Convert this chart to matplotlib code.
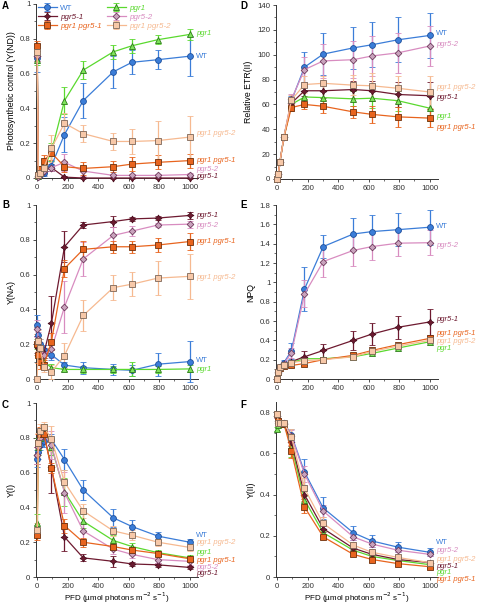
import matplotlib
matplotlib.use("Agg")
import matplotlib.pyplot as plt
from matplotlib.ticker import MultipleLocator, FuncFormatter

plt.rcParams['font.family'] = ['Liberation Sans', 'DejaVu Sans']

# light intensities (PFD)
pfd = [0, 7, 18, 44, 93, 179, 302, 499, 622, 792, 1000]

names = ["WT", "pgr1", "pgr5-1", "pgr5-2", "pgr1 pgr5-1", "pgr1 pgr5-2"]

# A: Y(ND)
ynd_wt = [0.69, 0.01, 0.02, 0.03, 0.07, 0.25, 0.445, 0.61, 0.665, 0.68, 0.70]
ynd_wt_sd = [0.08, 0.005, 0.01, 0.02, 0.03, 0.10, 0.10, 0.09, 0.07, 0.055, 0.115]
ynd_pgr1 = [0.68, 0.01, 0.03, 0.06, 0.15, 0.445, 0.62, 0.725, 0.76, 0.795, 0.825]
ynd_pgr1_sd = [0.03, 0.01, 0.01, 0.02, 0.05, 0.08, 0.05, 0.04, 0.04, 0.025, 0.03]
ynd_pgr51 = [0.70, 0.01, 0.02, 0.04, 0.06, 0.005, 0.0, 0.0, 0.0, 0.0, 0.0]
ynd_pgr51_sd = [0.03, 0.005, 0.01, 0.01, 0.02, 0.005, 0.002, 0.002, 0.002, 0.002, 0.002]
ynd_pgr52 = [0.70, 0.005, 0.02, 0.04, 0.06, 0.09, 0.04, 0.015, 0.015, 0.015, 0.02]
ynd_pgr52_sd = [0.03, 0.005, 0.01, 0.02, 0.02, 0.05, 0.03, 0.01, 0.01, 0.01, 0.01]
ynd_dm1 = [0.76, 0.02, 0.05, 0.10, 0.145, 0.065, 0.055, 0.065, 0.08, 0.09, 0.10]
ynd_dm1_sd = [0.03, 0.01, 0.02, 0.03, 0.04, 0.03, 0.035, 0.03, 0.04, 0.04, 0.04]
ynd_dm2 = [0.725, 0.02, 0.03, 0.06, 0.17, 0.315, 0.255, 0.21, 0.21, 0.215, 0.235]
ynd_dm2_sd = [0.04, 0.01, 0.02, 0.03, 0.08, 0.06, 0.05, 0.05, 0.07, 0.11, 0.12]

# B: Y(NA)
yna_wt = [0.31, 0.255, 0.20, 0.165, 0.14, 0.08, 0.065, 0.055, 0.05, 0.085, 0.10]
yna_wt_sd = [0.06, 0.03, 0.03, 0.03, 0.03, 0.02, 0.035, 0.03, 0.03, 0.065, 0.12]
yna_pgr1 = [0.20, 0.15, 0.12, 0.10, 0.065, 0.055, 0.055, 0.055, 0.055, 0.055, 0.058]
yna_pgr1_sd = [0.03, 0.03, 0.02, 0.02, 0.02, 0.01, 0.02, 0.02, 0.04, 0.02, 0.02]
yna_pgr51 = [0.20, 0.18, 0.16, 0.15, 0.32, 0.76, 0.885, 0.905, 0.92, 0.925, 0.94]
yna_pgr51_sd = [0.05, 0.04, 0.03, 0.03, 0.155, 0.09, 0.02, 0.03, 0.01, 0.01, 0.02]
yna_pgr52 = [0.29, 0.23, 0.18, 0.14, 0.17, 0.415, 0.69, 0.825, 0.85, 0.885, 0.89]
yna_pgr52_sd = [0.05, 0.04, 0.03, 0.03, 0.05, 0.15, 0.10, 0.05, 0.03, 0.01, 0.02]
yna_dm1 = [0.20, 0.14, 0.10, 0.08, 0.215, 0.635, 0.745, 0.76, 0.76, 0.77, 0.79]
yna_dm1_sd = [0.06, 0.05, 0.04, 0.03, 0.05, 0.05, 0.05, 0.035, 0.035, 0.04, 0.05]
yna_dm2 = [0.0, 0.22, 0.18, 0.07, 0.04, 0.135, 0.365, 0.525, 0.545, 0.58, 0.59]
yna_dm2_sd = [0.0, 0.06, 0.05, 0.03, 0.04, 0.07, 0.09, 0.07, 0.07, 0.10, 0.13]

# C: Y(I)
yi_wt = [0.68, 0.72, 0.76, 0.78, 0.79, 0.675, 0.50, 0.34, 0.29, 0.235, 0.20]
yi_wt_sd = [0.05, 0.04, 0.03, 0.03, 0.03, 0.06, 0.06, 0.05, 0.035, 0.025, 0.02]
yi_pgr1 = [0.31, 0.75, 0.80, 0.84, 0.75, 0.49, 0.32, 0.21, 0.175, 0.14, 0.11]
yi_pgr1_sd = [0.05, 0.05, 0.04, 0.04, 0.05, 0.08, 0.04, 0.03, 0.02, 0.015, 0.015]
yi_pgr51 = [0.70, 0.75, 0.80, 0.82, 0.63, 0.23, 0.11, 0.09, 0.075, 0.07, 0.055]
yi_pgr51_sd = [0.05, 0.04, 0.03, 0.03, 0.15, 0.08, 0.02, 0.03, 0.01, 0.01, 0.01]
yi_pgr52 = [0.70, 0.75, 0.80, 0.82, 0.76, 0.485, 0.265, 0.16, 0.13, 0.10, 0.09]
yi_pgr52_sd = [0.05, 0.04, 0.03, 0.03, 0.08, 0.12, 0.05, 0.03, 0.02, 0.02, 0.02]
yi_dm1 = [0.24, 0.77, 0.82, 0.82, 0.625, 0.295, 0.20, 0.175, 0.155, 0.135, 0.105]
yi_dm1_sd = [0.03, 0.05, 0.04, 0.03, 0.03, 0.04, 0.025, 0.02, 0.02, 0.015, 0.015]
yi_dm2 = [0.27, 0.77, 0.84, 0.86, 0.795, 0.545, 0.38, 0.265, 0.24, 0.20, 0.17]
yi_dm2_sd = [0.04, 0.06, 0.04, 0.03, 0.07, 0.07, 0.04, 0.03, 0.03, 0.02, 0.02]

# D: relative ETR(II)
etr_wt = [0, 4, 14, 34, 63, 90, 100.5, 105.5, 108, 112, 115.5]
etr_wt_sd = [0, 1, 1, 2, 4, 12, 17, 17, 18, 18, 18]
etr_pgr1 = [0, 4, 14, 33.5, 60, 66, 65.5, 64.5, 65, 63, 57]
etr_pgr1_sd = [0, 1, 1, 2, 4, 5, 5, 6, 8, 8, 10]
etr_pgr51 = [0, 4, 14, 34, 61, 71, 71, 72, 71, 68, 67]
etr_pgr51_sd = [0, 1, 1, 2, 4, 4, 6, 7, 8, 10, 11]
etr_pgr52 = [0, 4, 14, 34, 64, 88, 95, 96, 99, 101.5, 107]
etr_pgr52_sd = [0, 1, 1, 2, 4, 10, 14, 15, 16, 16, 16]
etr_dm1 = [0, 4, 14, 33.5, 57.5, 60, 58.5, 54, 52, 50, 49]
etr_dm1_sd = [0, 1, 1, 2, 3, 4, 5, 5, 7, 8, 7]
etr_dm2 = [0, 4, 14, 34, 63.5, 76, 77, 75.5, 75, 73, 70]
etr_dm2_sd = [0, 1, 1, 2, 4, 7, 6, 8, 10, 10, 13]

# E: NPQ
npq_wt = [0, 0.06, 0.12, 0.17, 0.29, 0.93, 1.37, 1.50, 1.525, 1.545, 1.57]
npq_wt_sd = [0, 0.01, 0.02, 0.03, 0.08, 0.23, 0.12, 0.17, 0.17, 0.17, 0.18]
npq_pgr1 = [0, 0.07, 0.12, 0.14, 0.17, 0.21, 0.21, 0.23, 0.265, 0.32, 0.385]
npq_pgr1_sd = [0, 0.01, 0.01, 0.01, 0.01, 0.01, 0.01, 0.01, 0.01, 0.01, 0.01]
npq_pgr51 = [0, 0.07, 0.12, 0.14, 0.18, 0.23, 0.295, 0.40, 0.465, 0.535, 0.59]
npq_pgr51_sd = [0, 0.01, 0.01, 0.02, 0.02, 0.06, 0.07, 0.10, 0.11, 0.12, 0.13]
npq_pgr52 = [0, 0.06, 0.12, 0.16, 0.27, 0.88, 1.215, 1.33, 1.37, 1.405, 1.41]
npq_pgr52_sd = [0, 0.01, 0.02, 0.03, 0.05, 0.14, 0.16, 0.16, 0.14, 0.13, 0.13]
npq_dm1 = [0, 0.07, 0.11, 0.13, 0.14, 0.16, 0.20, 0.245, 0.295, 0.355, 0.42]
npq_dm1_sd = [0, 0.01, 0.01, 0.01, 0.01, 0.01, 0.01, 0.015, 0.015, 0.02, 0.02]
npq_dm2 = [0, 0.07, 0.12, 0.14, 0.17, 0.19, 0.20, 0.23, 0.285, 0.34, 0.40]
npq_dm2_sd = [0, 0.01, 0.01, 0.01, 0.01, 0.01, 0.01, 0.015, 0.015, 0.02, 0.02]

# F: Y(II)
yii_wt = [0.79, 0.76, 0.75, 0.75, 0.69, 0.51, 0.335, 0.215, 0.175, 0.145, 0.12]
yii_wt_sd = [0.01, 0.01, 0.01, 0.01, 0.03, 0.065, 0.055, 0.035, 0.03, 0.025, 0.02]
yii_pgr1 = [0.72, 0.74, 0.75, 0.745, 0.635, 0.375, 0.215, 0.13, 0.10, 0.08, 0.06]
yii_pgr1_sd = [0.01, 0.01, 0.01, 0.01, 0.05, 0.02, 0.01, 0.01, 0.01, 0.01, 0.01]
yii_pgr51 = [0.78, 0.76, 0.75, 0.745, 0.655, 0.40, 0.235, 0.14, 0.11, 0.085, 0.07]
yii_pgr51_sd = [0.01, 0.01, 0.01, 0.01, 0.02, 0.02, 0.015, 0.01, 0.01, 0.01, 0.01]
yii_pgr52 = [0.78, 0.75, 0.75, 0.75, 0.685, 0.50, 0.32, 0.195, 0.16, 0.13, 0.11]
yii_pgr52_sd = [0.01, 0.01, 0.01, 0.01, 0.03, 0.04, 0.03, 0.015, 0.015, 0.01, 0.01]
yii_dm1 = [0.79, 0.76, 0.75, 0.745, 0.61, 0.34, 0.195, 0.11, 0.085, 0.065, 0.05]
yii_dm1_sd = [0.01, 0.01, 0.01, 0.01, 0.03, 0.03, 0.01, 0.01, 0.01, 0.01, 0.01]
yii_dm2 = [0.79, 0.75, 0.75, 0.75, 0.68, 0.43, 0.26, 0.155, 0.12, 0.095, 0.07]
yii_dm2_sd = [0.01, 0.01, 0.01, 0.01, 0.04, 0.05, 0.03, 0.015, 0.015, 0.01, 0.01]

# line colour, marker face, marker edge, marker, marker size
styles = {
    "WT": ("#3b7dd8", "#3b7dd8", "#1d4f9c", "o", 4.2),
    "pgr1": ("#5ad92e", "#7fe35c", "#2c7a18", "^", 4.4),
    "pgr5-1": ("#6e1a30", "#6e1a30", "#4a0f1f", (4, 1, 0), 5.0),
    "pgr5-2": ("#d88cc0", "#c9a3bd", "#6f3a5c", "D", 3.4),
    "pgr1 pgr5-1": ("#e8641e", "#e8641e", "#6e300c", "s", 4.2),
    "pgr1 pgr5-2": ("#f6b990", "#f7c8a8", "#7d6657", "s", 4.2),
}

fig = plt.figure(figsize=(4.8, 6.05), dpi=100)

w = 0.3375
h = 174 / 605
ax_a = fig.add_axes([0.075, 1 - 178 / 605, w, h])
ax_b = fig.add_axes([0.075, 1 - 379 / 605, w, h])
ax_c = fig.add_axes([0.075, 1 - 577 / 605, w, h])
ax_d = fig.add_axes([0.575, 1 - 179 / 605, w, h])
ax_e = fig.add_axes([0.575, 1 - 379 / 605, w, h])
ax_f = fig.add_axes([0.575, 1 - 577 / 605, w, 175 / 605])


def draw(ax, values, errors, label_y, ylim, major, ylabel):
    for name, y, e in zip(names, values, errors):
        col, face, edge, mk, ms = styles[name]
        ax.errorbar(pfd, y, yerr=e, color=col, lw=0.9, ecolor=col, elinewidth=0.9,
                    capsize=2.2, capthick=0.9, marker=mk, ms=ms, mfc=face, mec=edge,
                    mew=0.6, label=name, clip_on=False, zorder=3)
    for name, ly in zip(names, label_y):
        ax.text(1040, ly, name, color=styles[name][0], fontsize=5.5,
                style="normal" if name == "WT" else "italic",
                va="center", ha="left", clip_on=False)
    ax.set_xlim(-8, 1055)
    ax.set_ylim(*ylim)
    ax.xaxis.set_major_locator(MultipleLocator(200))
    ax.xaxis.set_minor_locator(MultipleLocator(100))
    ax.yaxis.set_major_locator(MultipleLocator(major))
    ax.yaxis.set_minor_locator(MultipleLocator(major / 2))
    ax.xaxis.set_major_formatter(FuncFormatter(lambda v, p: "%g" % v))
    ax.yaxis.set_major_formatter(FuncFormatter(lambda v, p: "%g" % round(v, 3)))
    ax.spines["top"].set_visible(False)
    ax.spines["right"].set_visible(False)
    for s in ("left", "bottom"):
        ax.spines[s].set_linewidth(0.7)
        ax.spines[s].set_color("#333333")
    ax.tick_params(which="major", direction="out", length=2.5, width=0.6,
                   labelsize=5.6, pad=1.5, colors="#333333")
    ax.tick_params(which="minor", direction="out", length=1.5, width=0.5, colors="#333333")
    ax.set_ylabel(ylabel, fontsize=6.3, labelpad=3)


draw(ax_a,
     [ynd_wt, ynd_pgr1, ynd_pgr51, ynd_pgr52, ynd_dm1, ynd_dm2],
     [ynd_wt_sd, ynd_pgr1_sd, ynd_pgr51_sd, ynd_pgr52_sd, ynd_dm1_sd, ynd_dm2_sd],
     [0.70, 0.83, 0.006, 0.046, 0.10, 0.253], (0, 1), 0.2,
     "Photosynthetic control (Y(ND))")
draw(ax_b,
     [yna_wt, yna_pgr1, yna_pgr51, yna_pgr52, yna_dm1, yna_dm2],
     [yna_wt_sd, yna_pgr1_sd, yna_pgr51_sd, yna_pgr52_sd, yna_dm1_sd, yna_dm2_sd],
     [0.109, 0.056, 0.939, 0.881, 0.789, 0.582], (0, 1), 0.2, "Y(NA)")
draw(ax_c,
     [yi_wt, yi_pgr1, yi_pgr51, yi_pgr52, yi_dm1, yi_dm2],
     [yi_wt_sd, yi_pgr1_sd, yi_pgr51_sd, yi_pgr52_sd, yi_dm1_sd, yi_dm2_sd],
     [0.239, 0.138, 0.019, 0.055, 0.094, 0.197], (0, 1), 0.2, "Y(I)")
draw(ax_d,
     [etr_wt, etr_pgr1, etr_pgr51, etr_pgr52, etr_dm1, etr_dm2],
     [etr_wt_sd, etr_pgr1_sd, etr_pgr51_sd, etr_pgr52_sd, etr_dm1_sd, etr_dm2_sd],
     [117, 50.4, 65.7, 108, 41.3, 73.7], (0, 140), 20, "Relative ETR(II)")
draw(ax_e,
     [npq_wt, npq_pgr1, npq_pgr51, npq_pgr52, npq_dm1, npq_dm2],
     [npq_wt_sd, npq_pgr1_sd, npq_pgr51_sd, npq_pgr52_sd, npq_dm1_sd, npq_dm2_sd],
     [1.58, 0.314, 0.615, 1.386, 0.466, 0.39], (0, 1.8), 0.2, "NPQ")
draw(ax_f,
     [yii_wt, yii_pgr1, yii_pgr51, yii_pgr52, yii_dm1, yii_dm2],
     [yii_wt_sd, yii_pgr1_sd, yii_pgr51_sd, yii_pgr52_sd, yii_dm1_sd, yii_dm2_sd],
     [0.166, 0.021, 0.052, 0.13, -0.01, 0.084], (0, 0.85), 0.2, "Y(II)")

for ax in (ax_c, ax_f):
    ax.set_xlabel("PFD (µmol photons m$^{-2}$ s$^{-1}$)", fontsize=5.8, labelpad=0.5)

# panel letters
for letter, fx, fy in [("A", 2, 6), ("B", 2, 205), ("C", 2, 405),
                       ("D", 240, 6), ("E", 240, 205), ("F", 240, 405)]:
    fig.text(fx / 480, 1 - fy / 605, letter, fontsize=7, fontweight="bold",
             va="center", ha="left")

# legend in panel A, two columns
handles, labels = ax_a.get_legend_handles_labels()
order = [0, 2, 4, 1, 3, 5]
leg = ax_a.legend([handles[i] for i in order], [labels[i] for i in order],
                  ncol=2, loc="upper left", bbox_to_anchor=(0.0, 1.01),
                  frameon=False, fontsize=5.8, handlelength=2.4,
                  columnspacing=0.6, labelspacing=0.2, handletextpad=0.4,
                  borderaxespad=0.1, borderpad=0.1)
for txt in leg.get_texts():
    name = txt.get_text()
    txt.set_color(styles[name][0])
    if name != "WT":
        txt.set_style("italic")

fig.savefig("out.png", dpi=100)
